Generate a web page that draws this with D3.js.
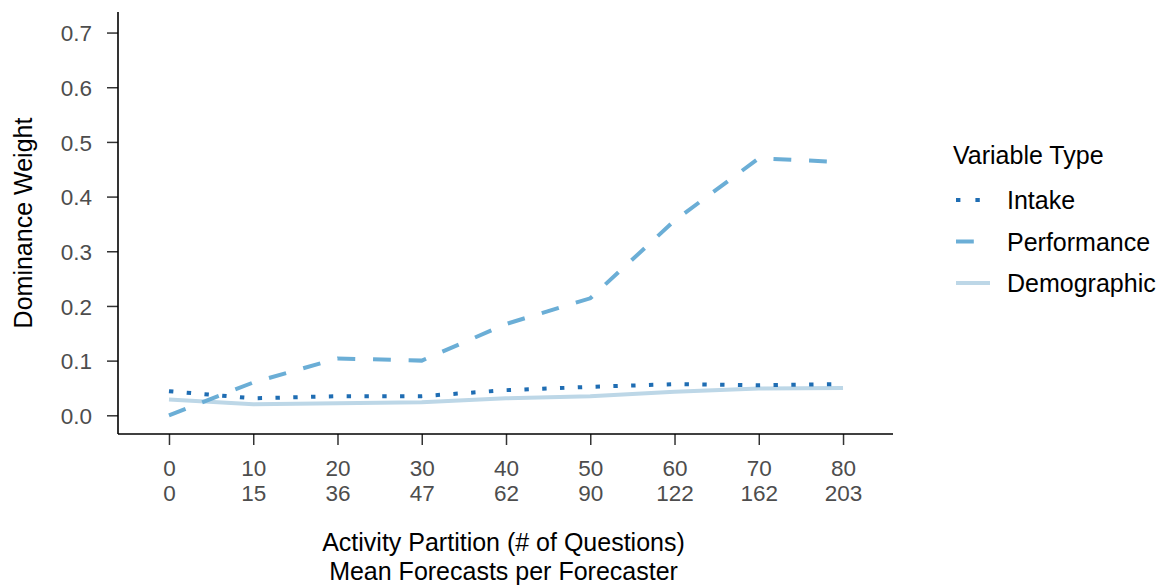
<!DOCTYPE html>
<html>
<head>
<meta charset="utf-8">
<script src="https://cdn.jsdelivr.net/npm/d3@7"></script>
<style>
  body { margin: 0; background: #fff; }
  text { font-family: "Liberation Sans", Arial, sans-serif; }
</style>
</head>
<body>
<div id="chart"></div>
<script>
// activity partition (# of questions) and mean forecasts per forecaster
var partitions = [0, 10, 20, 30, 40, 50, 60, 70, 80];
var meanForecasts = [0, 15, 36, 47, 62, 90, 122, 162, 203];
var yTicks = [0.0, 0.1, 0.2, 0.3, 0.4, 0.5, 0.6, 0.7];

var intake      = [0.044, 0.031, 0.035, 0.035, 0.046, 0.052, 0.057, 0.055, 0.057];
var performance = [0.000, 0.060, 0.104, 0.100, 0.167, 0.214, 0.356, 0.470, 0.463];
var demographic = [0.029, 0.020, 0.022, 0.024, 0.031, 0.035, 0.043, 0.049, 0.050];

var seriesNames = ["Intake", "Performance", "Demographic"];
var seriesValues = [intake, performance, demographic];

var styles = {
  Intake:      { color: "#1f6db3", dash: "4.4,13.4" },
  Performance: { color: "#6baed6", dash: "17.8,17.8" },
  Demographic: { color: "#bdd7e7", dash: null }
};

var W = 1159, H = 588;
var plotLeft = 118, plotRight = 893, plotTop = 12, plotBottom = 434;
var tickFont = "22.5px", titleFont = "25px";

var svg = d3.select("#chart").append("svg")
  .attr("width", W)
  .attr("height", H);

var x = d3.scaleLinear().domain([-6.05, 85.93]).range([plotLeft, plotRight]);
var y = d3.scaleLinear().domain([-0.0342, 0.7376]).range([plotBottom, plotTop]);

// y axis
var yAxis = svg.append("g")
  .attr("transform", "translate(" + plotLeft + ",0)")
  .call(d3.axisLeft(y).tickValues(yTicks).tickFormat(d3.format(".1f")).tickSize(11).tickPadding(15));
yAxis.select(".domain").remove();
yAxis.selectAll(".tick line").attr("stroke", "#333").attr("stroke-width", 1.5);
yAxis.selectAll(".tick text").attr("fill", "#4d4d4d").style("font-size", tickFont)
  .attr("dy", "0.36em");

svg.append("line")
  .attr("x1", plotLeft).attr("x2", plotLeft)
  .attr("y1", plotTop).attr("y2", plotBottom)
  .attr("stroke", "#000").attr("stroke-width", 1.6);

// x axis, two rows of labels
var xAxis = svg.append("g")
  .attr("transform", "translate(0," + plotBottom + ")")
  .call(d3.axisBottom(x).tickValues(partitions).tickFormat("").tickSize(11));
xAxis.select(".domain").remove();
xAxis.selectAll(".tick line").attr("stroke", "#333").attr("stroke-width", 1.5);

xAxis.selectAll(".tick").each(function(d, i) {
  var t = d3.select(this).append("text")
    .attr("text-anchor", "middle")
    .attr("fill", "#4d4d4d")
    .style("font-size", tickFont);
  t.append("tspan").attr("x", 0).attr("y", 42).text(partitions[i]);
  t.append("tspan").attr("x", 0).attr("y", 67).text(meanForecasts[i]);
});

svg.append("line")
  .attr("x1", plotLeft).attr("x2", plotRight)
  .attr("y1", plotBottom).attr("y2", plotBottom)
  .attr("stroke", "#000").attr("stroke-width", 1.6);

// axis titles
svg.append("text")
  .attr("transform", "translate(32," + ((plotTop + plotBottom) / 2) + ") rotate(-90)")
  .attr("text-anchor", "middle")
  .style("font-size", titleFont)
  .text("Dominance Weight");

svg.append("text")
  .attr("x", (plotLeft + plotRight) / 2 - 2).attr("y", 551)
  .attr("text-anchor", "middle")
  .style("font-size", titleFont)
  .text("Activity Partition (# of Questions)");

svg.append("text")
  .attr("x", (plotLeft + plotRight) / 2 - 2).attr("y", 580)
  .attr("text-anchor", "middle")
  .style("font-size", titleFont)
  .text("Mean Forecasts per Forecaster");

// lines (demographic first so the others sit on top)
var line = d3.line()
  .x(function(d, i) { return x(partitions[i]); })
  .y(function(d) { return y(d); });

[2, 1, 0].forEach(function(k) {
  var name = seriesNames[k];
  svg.append("path")
    .datum(seriesValues[k])
    .attr("fill", "none")
    .attr("stroke", styles[name].color)
    .attr("stroke-width", 4)
    .attr("stroke-dasharray", styles[name].dash)
    .attr("d", line);
});

// legend
var legend = svg.append("g").attr("transform", "translate(953,0)");
legend.append("text")
  .attr("x", 0).attr("y", 164)
  .style("font-size", titleFont)
  .text("Variable Type");

seriesNames.forEach(function(name, i) {
  var ly = 200 + i * 41.5;
  legend.append("line")
    .attr("x1", 3).attr("x2", 37)
    .attr("y1", ly).attr("y2", ly)
    .attr("stroke", styles[name].color)
    .attr("stroke-width", 4)
    .attr("stroke-dasharray", name === "Intake" ? "4.4,15" : (name === "Performance" ? "17.8,17.8" : null));
  legend.append("text")
    .attr("x", 54).attr("y", ly)
    .attr("dy", "0.36em")
    .style("font-size", titleFont)
    .text(name);
});
</script>
</body>
</html>
